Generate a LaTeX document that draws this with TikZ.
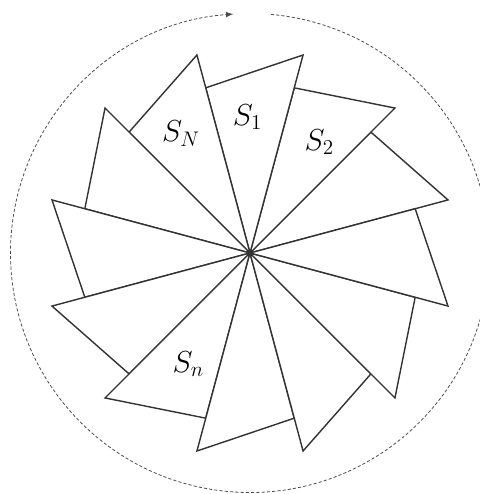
\documentclass[tikz,border=0pt]{standalone}
\usepackage{amsmath}
\usepackage{amssymb}
\usepackage{tikz}
\usetikzlibrary{arrows}

\begin{document}
\begin{tikzpicture}[x=0.02cm,y=0.02cm]
		\tikzset{blade/.style={draw=black!80, line width=0.8pt, line join=miter, fill=white}};
		\tikzset{orbit/.style={draw=black!70, line width=0.45pt, dash pattern=on 1.8pt off 1.2pt}};
		\tikzset{sector/.style={font=\LARGE}};
		\useasboundingbox (-250,-241) rectangle (230,253);
		\coordinate (O) at (0,0);
		% blades of the wheel
		\foreach \t in {15,45,...,345}
			\draw[blade] (O) -- (\t:205) -- (\t+30:171) -- cycle;
		% rotation
		\draw[orbit,-latex] (O) ++(85:239.5) arc[start angle=85, end angle=-266, radius=239.5];
		\draw (91:136) node[sector] (S1) {$S_1$};
		\draw (58:131) node[sector] (S2) {$S_2$};
		\draw (120:138) node[sector] (SN) {$S_N$};
		\draw (241:127) node[sector] (Sn) {$S_n$};
	\end{tikzpicture}
\end{document}
